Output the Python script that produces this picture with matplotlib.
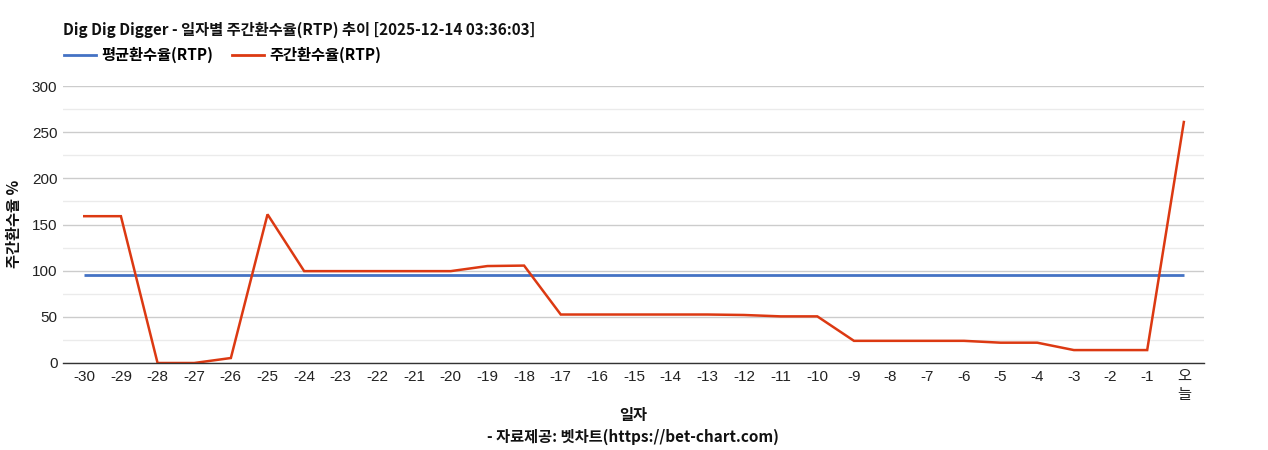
import matplotlib
matplotlib.use("Agg")
import matplotlib.pyplot as plt
from matplotlib.ticker import MultipleLocator
from matplotlib.lines import Line2D

categories = ["-30", "-29", "-28", "-27", "-26", "-25", "-24", "-23", "-22", "-21",
              "-20", "-19", "-18", "-17", "-16", "-15", "-14", "-13", "-12", "-11",
              "-10", "-9", "-8", "-7", "-6", "-5", "-4", "-3", "-2", "-1", "오\n늘"]
weekly_rtp = [159, 159, 0, 0, 5.4, 161, 99.5, 99.5, 99.5, 99.5,
              99.5, 105, 105.5, 52.5, 52.5, 52.5, 52.5, 52.5, 52, 50.5,
              50.5, 24, 24, 24, 24, 22, 22, 14, 14, 14, 261]
avg_rtp = [95.3] * len(categories)

title = "Dig Dig Digger - 일자별 주간환수율(RTP) 추이 [2025-12-14 03:36:03]"
legend_labels = ["평균환수율(RTP)", "주간환수율(RTP)"]
ylabel = "주간환수율 %"
xlabel = "일자"
caption = "- 자료제공: 벳차트(https://bet-chart.com)"

fam = ["Liberation Sans", "Noto Sans CJK KR", "DejaVu Sans"]
kfam = ["Noto Sans CJK KR", "DejaVu Sans"]
plt.rcParams["font.family"] = fam

blue = "#4472c4"
red = "#dc3912"

fig = plt.figure(figsize=(12.68, 4.5), dpi=100)
ax = fig.add_axes([63/1268, 87/450, (1204-63)/1268, (363-86)/450])

x = list(range(len(categories)))
ax.plot(x, avg_rtp, color=blue, lw=2, solid_capstyle="butt")
ax.plot(x, weekly_rtp, color=red, lw=1.8, solid_joinstyle="miter")

ax.set_xlim(-0.58, len(categories) - 1 + 0.55)
ax.set_ylim(0, 300)
ax.yaxis.set_major_locator(MultipleLocator(50))
ax.yaxis.set_minor_locator(MultipleLocator(25))
ax.grid(which="major", axis="y", color="#cccccc", lw=1)
ax.grid(which="minor", axis="y", color="#ebebeb", lw=1)
ax.set_axisbelow(True)
for s in ["top", "right", "left"]:
    ax.spines[s].set_visible(False)
ax.spines["bottom"].set_color("#333333")
ax.spines["bottom"].set_linewidth(1)
ax.tick_params(axis="both", which="both", length=0, labelsize=11, colors="#222222")
ax.tick_params(axis="x", pad=5)
ax.tick_params(axis="y", pad=4)
ax.set_xticks(x)
ax.set_xticklabels(categories, linespacing=1.4, va="top")

fig.text(63/1268, 1 - 30/450, title, fontsize=11, fontweight="bold",
         family=kfam, va="center", ha="left", color="#111111")

# legend
handles = [Line2D([0], [0], color=blue, lw=2), Line2D([0], [0], color=red, lw=2)]
leg = fig.legend(handles, legend_labels, loc="center left",
                 bbox_to_anchor=(50/1268, 1 - 55/450), ncol=2, frameon=False,
                 prop={"family": kfam, "weight": "bold", "size": 11},
                 handlelength=2.1, handletextpad=0.35, columnspacing=1.25)

fig.text(14/1268, 1 - 224/450, ylabel, rotation=90, fontsize=11, fontweight="bold",
         family=kfam, va="center", ha="center", color="#111111")
fig.text(633/1268, 1 - 415/450, xlabel, fontsize=11, fontweight="bold",
         family=kfam, va="center", ha="center", color="#111111")
fig.text(633/1268, 1 - 437/450, caption, fontsize=11, fontweight="bold",
         family=kfam, va="center", ha="center", color="#111111")

fig.savefig("out.png", dpi=100)
